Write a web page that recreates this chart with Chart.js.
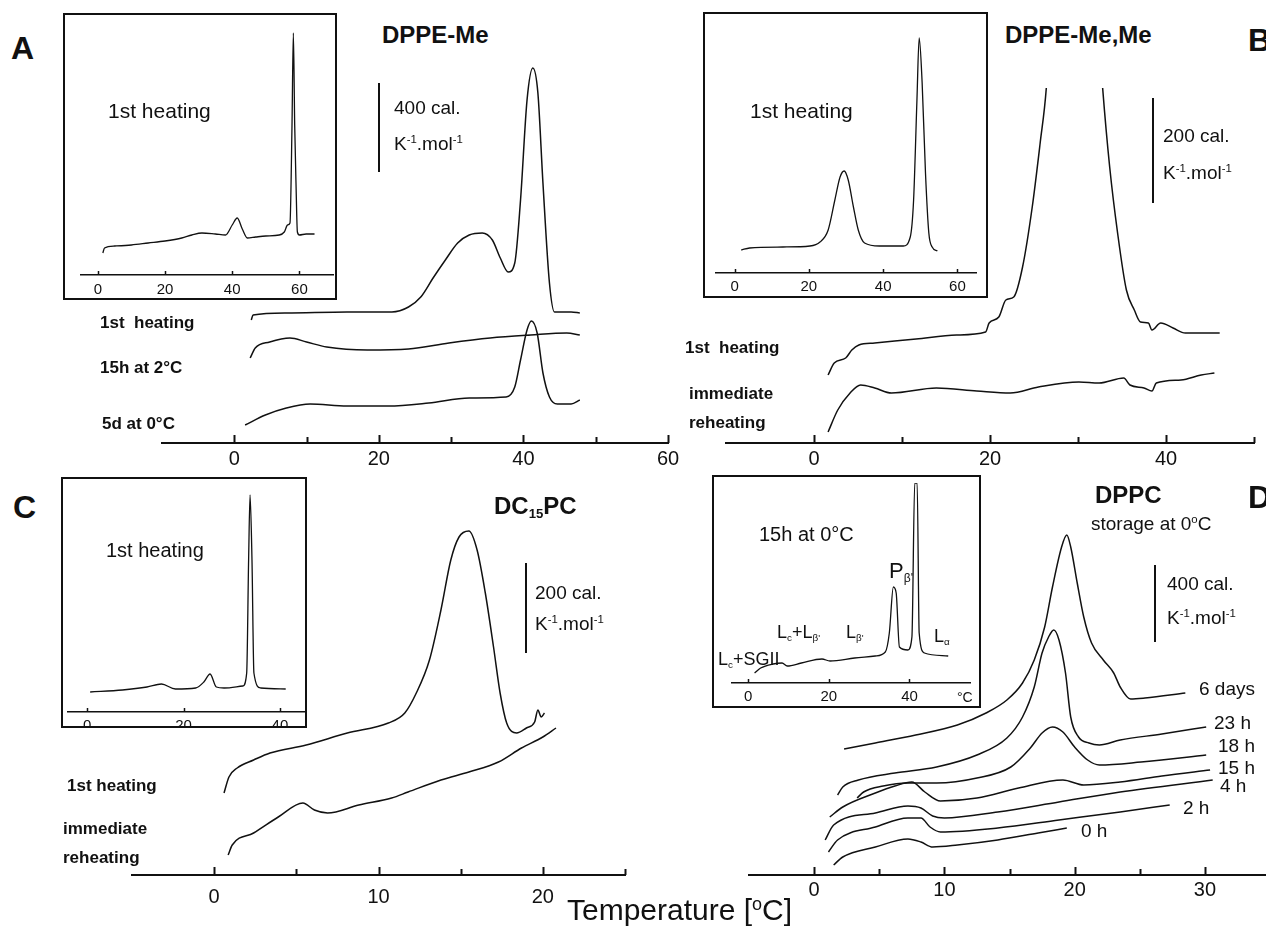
<!DOCTYPE html>
<html>
<head>
<meta charset="utf-8">
<script src="https://cdn.jsdelivr.net/npm/chart.js@4.4.0/dist/chart.umd.min.js"></script>
<style>
body{margin:0;background:#fff;}
#fig{position:relative;width:1266px;height:931px;overflow:hidden;background:#fff;font-family:"Liberation Sans",Arial,sans-serif;color:#111;}
.t{position:absolute;white-space:nowrap;transform:translateY(-50%);line-height:1;}
.t sub{font-size:0.55em;vertical-align:-0.35em;}
.t sup{font-size:0.6em;vertical-align:0.6em;}
.box{position:absolute;box-sizing:border-box;border:2px solid #111;overflow:hidden;background:#fff;}
.bar{position:absolute;width:1.5px;background:#111;}
canvas{position:absolute;}
</style>
</head>
<body>
<div id="fig"></div>
<script>
// ---- data: [temperature °C, excess heat capacity (arbitrary, px above baseline axis)] ----
// panel A, DPPE-Me
var aHeat1 = [[2.35,123],[2.6,128],[7.2,130],[15.6,131],[21.8,131],[24.1,136],[25.8,146],[27.5,165],[29.2,183],[30.9,200],[32.5,208],[34.3,210],[35.7,203],[36.8,185],[37.9,171],[38.8,180],[39.6,243],[40.5,343],[41.3,375],[42.0,350],[42.7,260],[43.6,160],[44.3,131],[46.6,131],[47.8,130]];
var a15h2C = [[2.2,85],[2.9,95],[4.9,101],[7.7,105],[10,101],[12.8,96],[18.4,93],[24.1,94],[29.7,100],[35.4,105],[41,108],[46,110],[47.8,108]];
var a5d0C = [[1.5,18],[4.3,28],[7.2,35],[10.5,39],[15.6,37],[21.3,37],[26.9,40],[32.5,45],[37.6,46],[38.8,56],[39.6,83],[40.5,113],[41.1,122],[41.9,110],[42.7,70],[43.6,46],[44.7,39],[46.6,39],[47.8,43]];
var aInset = [[1.5,22],[2,27],[5,29],[10,30],[15,32],[20,34],[25,37],[28,40],[31,42],[35,41],[38,40],[40,50],[41.5,57],[43,46],[44.5,37],[47,38],[50,39],[54,40],[55.5,43],[56.5,50],[57.2,52],[57.8,150],[58.2,242],[58.6,150],[59.0,90],[59.4,43],[60,40],[62,41],[64.5,41]];
// panel B, DPPE-Me,Me
var bHeat1 = [[1.6,68],[2.3,80],[3.6,85],[4.3,93],[5.1,98],[6.9,100],[11.6,104],[16.2,108],[19.5,111],[19.9,120],[21,126],[21.8,143],[22.7,146],[23.7,176],[24.8,236],[25.7,300],[26.4,355],[27.5,520],[29.5,760],[31.5,520],[32.8,355],[33.6,276],[34.5,210],[35.5,153],[36.4,133],[37.1,121],[38,120],[38.4,113],[39.4,120],[40.8,115],[42.2,110],[44,110],[46.1,110]];
var bReheat = [[1.6,11],[2.7,33],[4.1,50],[5.3,58],[6.9,55],[8.8,50],[13.9,55],[18.5,52],[22.3,50],[25.5,56],[30.1,61],[32.4,60],[35.2,65],[35.9,58],[37.5,55],[38.4,52],[38.9,60],[41.7,63],[44,68],[45.5,70]];
var bInset = [[1.8,23],[4.05,25],[13,26],[20.3,27],[23,31],[25.2,43],[27,73],[28.4,96],[29.5,102],[30.6,93],[32,66],[33.3,43],[35,30],[39,27],[45.4,27],[47.3,36],[48.2,73],[49.1,173],[49.7,235],[50.5,190],[51.4,100],[52.3,40],[53.2,26],[54.6,22]];
// panel C, DC15PC
var cHeat1 = [[0.6,82],[0.9,98],[1.4,107],[2.4,115],[3.4,122],[5.6,130],[8.1,142],[10.6,152],[11.6,162],[12.3,182],[13.1,215],[13.8,265],[14.4,315],[14.9,338],[15.5,344],[16.0,325],[16.5,282],[17.0,228],[17.4,182],[17.8,152],[18.4,142],[19.0,147],[19.5,153],[19.7,165],[19.9,158],[20.1,162]];
var cReheat = [[0.85,20],[1.1,30],[2.4,42],[3.9,58],[5.4,72],[6.1,65],[6.9,62],[8.8,70],[10.8,77],[11.8,83],[13.8,95],[15.5,103],[17.3,113],[18.7,127],[20,138],[20.8,147]];
var cInset = [[0.6,20],[7.3,22],[12.4,25],[15.4,28],[18.3,23],[22.5,24],[24.2,30],[25.5,38],[26.8,25],[28.4,24],[32.3,26],[33.1,39],[33.5,152],[33.8,217],[34.2,152],[34.6,39],[36,24],[41.2,23]];
// panel D, DPPC storage at 0 °C
var d6days = [[2.3,126],[4.7,132],[7.8,140],[11,150],[13.2,162],[14.8,175],[16,192],[16.9,215],[17.7,248],[18.3,288],[19,328],[19.4,340],[19.7,328],[20.2,292],[20.7,258],[21.3,232],[22.2,215],[23,202],[23.5,188],[24.3,176],[25.4,177],[28.5,182]];
var d23h = [[1.8,80],[2.2,88],[3.4,95],[6.2,102],[9.4,108],[12.5,120],[14.8,137],[16,158],[16.9,188],[17.5,222],[18,238],[18.4,245],[18.8,235],[19.3,202],[19.7,158],[20.3,138],[21.1,132],[21.9,130],[23.5,135],[26.7,141],[30.1,148]];
var d18h = [[3.3,77],[3.8,83],[5.3,89],[7.2,92],[9.4,92],[12.5,97],[15.1,108],[16.6,127],[17.5,142],[18.3,148],[19.1,143],[20,128],[21,115],[21.9,110],[25.1,113],[30.1,120]];
var d15h = [[1.2,58],[2.2,68],[4.7,82],[6.2,89],[7.5,93],[8.5,83],[9.7,74],[12.5,77],[15.7,87],[19.1,95],[20.7,90],[23.5,93],[26.7,99],[30.4,105]];
var d4h = [[0.85,35],[1.5,50],[4.7,62],[7.2,69],[8.2,67],[9.1,59],[10,57],[14.1,63],[18.8,73],[23.5,83],[30.6,95]];
var d2h = [[1.1,23],[1.8,35],[4.7,48],[7.2,57],[8.2,57],[8.9,48],[9.7,43],[14.1,47],[18.8,55],[23.5,63],[27.3,70]];
var d0h = [[1.5,10],[2.2,18],[4.7,28],[7.2,36],[8.2,33],[9.1,28],[11,30],[14.1,35],[17.2,42],[19.4,47]];
var dInset = [[1.6,10],[3.1,15],[6.2,19],[8.4,20],[9.7,17],[13.2,20],[18.3,24],[20.3,22],[26.4,25],[31.5,27],[34,31],[35,50],[36,96],[36.7,90],[37.5,36],[39.6,33],[40.6,46],[41.3,200],[41.9,200],[42.4,50],[43.7,30],[49.6,27]];

// tick labels
var aTicks = [0, 20, 40, 60], aMinor = [10, 30, 50];
var bTicks = [0, 20, 40], bMinor = [10, 30, 50];
var cTicks = [0, 10, 20], cMinor = [5, 15, 25];
var dTicks = [0, 10, 20, 30], dMinor = [5, 15, 25, 35];
var aInsetTicks = [0, 20, 40, 60];
var bInsetTicks = [0, 20, 40, 60];
var cInsetTicks = [0, 20, 40];
var dInsetTicks = [0, 20, 40];

Chart.defaults.font.family = '"Liberation Sans", Arial, sans-serif';
var fig = document.getElementById('fig');

// tick marks pointing up from the axis line
var upTicks = {
  id: 'upTicks',
  afterDraw: function (chart, args, opts) {
    var xs = chart.scales.x, ctx = chart.ctx, y = xs.top;
    ctx.save();
    ctx.strokeStyle = '#111';
    ctx.lineWidth = opts.width;
    [[opts.major, opts.len], [opts.minor, opts.minorLen]].forEach(function (set) {
      (set[0] || []).forEach(function (v) {
        var px = Math.round(xs.getPixelForValue(v)) + 0.5;
        ctx.beginPath();
        ctx.moveTo(px, y);
        ctx.lineTo(px, y - set[1]);
        ctx.stroke();
      });
    });
    ctx.restore();
  }
};

function plot(parent, ox, oy, g, series, ticks, minor) {
  var padL = 30, padR = 30, axisH = 40;
  var w = g.x1 - g.x0 + padL + padR, h = g.axisY - g.top + axisH;
  var cv = document.createElement('canvas');
  cv.width = w; cv.height = h;
  cv.style.width = w + 'px'; cv.style.height = h + 'px';
  cv.style.left = (g.x0 - padL - ox) + 'px';
  cv.style.top = (g.top - oy) + 'px';
  parent.appendChild(cv);
  new Chart(cv.getContext('2d'), {
    type: 'line',
    data: {
      datasets: series.map(function (s) {
        return {
          data: s.map(function (p) { return {x: p[0], y: p[1]}; }),
          borderColor: '#111', borderWidth: g.lw, pointRadius: 0,
          cubicInterpolationMode: 'monotone', fill: false, clip: g.clip
        };
      })
    },
    options: {
      responsive: false, animation: false, devicePixelRatio: 1,
      layout: {padding: {left: padL, right: padR, top: 0, bottom: 0}},
      plugins: {
        legend: {display: false}, tooltip: {enabled: false},
        upTicks: {major: ticks, minor: minor, len: g.tl, minorLen: g.tl - 2, width: g.aw}
      },
      scales: {
        x: {
          type: 'linear', min: g.min, max: g.max,
          afterBuildTicks: function (s) { s.ticks = ticks.map(function (v) { return {value: v}; }); },
          afterFit: function (s) { s.height = axisH; s.paddingLeft = 0; s.paddingRight = 0; },
          grid: {display: false, drawTicks: false},
          border: {display: true, color: '#111', width: g.aw},
          ticks: {color: '#111', font: {size: g.fs}, padding: g.pad, maxRotation: 0, autoSkip: false}
        },
        y: {display: false, min: 0, max: g.axisY - g.top}
      }
    },
    plugins: [upTicks]
  });
}

function box(x, y, w, h) {
  var d = document.createElement('div');
  d.className = 'box';
  d.style.left = x + 'px'; d.style.top = y + 'px';
  d.style.width = w + 'px'; d.style.height = h + 'px';
  fig.appendChild(d);
  return d;
}
function txt(html, x, y, css) {
  var d = document.createElement('div');
  d.className = 't';
  d.innerHTML = html;
  d.style.left = x + 'px'; d.style.top = y + 'px';
  d.style.cssText += css;
  fig.appendChild(d);
}
function bar(x, y0, y1) {
  var d = document.createElement('div');
  d.className = 'bar';
  d.style.left = x + 'px'; d.style.top = y0 + 'px'; d.style.height = (y1 - y0) + 'px';
  fig.appendChild(d);
}

// main panels
plot(fig, 0, 0, {x0: 162, x1: 668, min: -10, max: 60, axisY: 443, top: 60, fs: 20, pad: 4, tl: 8, aw: 2, lw: 1.5}, [aHeat1, a15h2C, a5d0C], aTicks, aMinor);
plot(fig, 0, 0, {x0: 726, x1: 1254, min: -10, max: 50, axisY: 443, top: 88, fs: 20, pad: 4, tl: 8, aw: 2, lw: 1.5}, [bHeat1, bReheat], bTicks, bMinor);
plot(fig, 0, 0, {x0: 132, x1: 625, min: -5, max: 25, axisY: 875, top: 500, fs: 20, pad: 10, tl: 8, aw: 2, lw: 1.5}, [cHeat1, cReheat], cTicks, cMinor);
plot(fig, 0, 0, {x0: 749, x1: 1270, min: -5, max: 35, axisY: 875, top: 500, fs: 20, pad: 3, tl: 8, aw: 2, lw: 1.5}, [d6days, d23h, d18h, d15h, d4h, d2h, d0h], dTicks, dMinor);

// insets
var ia = box(63, 13, 274, 287);
plot(ia, 65, 15, {x0: 81, x1: 333, min: -5, max: 70, axisY: 275, top: 25, fs: 15, pad: 6, tl: 4, aw: 1.5, lw: 1.3, clip: false}, [aInset], aInsetTicks, []);
var ib = box(703, 12, 285, 286);
plot(ib, 705, 14, {x0: 716, x1: 976, min: -5, max: 65, axisY: 273, top: 25, fs: 15, pad: 5, tl: 4, aw: 1.5, lw: 1.3, clip: false}, [bInset], bInsetTicks, []);
var ic = box(61, 477, 246, 251);
plot(ic, 63, 479, {x0: 68, x1: 304, min: -4, max: 45, axisY: 712, top: 485, fs: 15, pad: 5, tl: 4, aw: 1.5, lw: 1.3, clip: false}, [cInset], cInsetTicks, []);
var id = box(712, 475, 269, 233);
plot(id, 714, 477, {x0: 732, x1: 970, min: -4, max: 55, axisY: 683, top: 483, fs: 15, pad: 5, tl: 4, aw: 1.5, lw: 1.3, clip: false}, [dInset], dInsetTicks, []);

// panel A texts
txt('A', 11, 48, 'font-size:32px;font-weight:bold;');
txt('DPPE-Me', 382, 35, 'font-size:24px;font-weight:bold;');
bar(378, 83, 172);
txt('400 cal.', 394, 107, 'font-size:19px;');
txt('K<sup>-1</sup>.mol<sup>-1</sup>', 394, 143, 'font-size:19px;');
txt('1st&nbsp;&nbsp;heating', 100, 322, 'font-size:17px;font-weight:bold;');
txt('15h at 2°C', 100, 367, 'font-size:17px;font-weight:bold;');
txt('5d at 0°C', 102, 423, 'font-size:17px;font-weight:bold;');
txt('1st heating', 108, 110, 'font-size:21px;');

// panel B texts
txt('B', 1248, 40, 'font-size:32px;font-weight:bold;');
txt('DPPE-Me,Me', 1005, 35, 'font-size:24px;font-weight:bold;');
bar(1152, 98, 203);
txt('200 cal.', 1163, 135, 'font-size:19px;');
txt('K<sup>-1</sup>.mol<sup>-1</sup>', 1163, 172, 'font-size:19px;');
txt('1st&nbsp;&nbsp;heating', 685, 347, 'font-size:17px;font-weight:bold;');
txt('immediate', 689, 393, 'font-size:17px;font-weight:bold;');
txt('reheating', 689, 422, 'font-size:17px;font-weight:bold;');
txt('1st heating', 750, 110, 'font-size:21px;');

// panel C texts
txt('C', 13, 507, 'font-size:32px;font-weight:bold;');
txt('DC<sub>15</sub>PC', 494, 507, 'font-size:24px;font-weight:bold;');
bar(525, 563, 653);
txt('200 cal.', 535, 592, 'font-size:19px;');
txt('K<sup>-1</sup>.mol<sup>-1</sup>', 535, 623, 'font-size:19px;');
txt('1st heating', 67, 785, 'font-size:17px;font-weight:bold;');
txt('immediate', 63, 828, 'font-size:17px;font-weight:bold;');
txt('reheating', 63, 857, 'font-size:17px;font-weight:bold;');
txt('1st heating', 106, 550, 'font-size:20px;');

// panel D texts
txt('D', 1248, 497, 'font-size:32px;font-weight:bold;');
txt('DPPC', 1095, 495, 'font-size:24px;font-weight:bold;');
txt('storage at 0<sup>o</sup>C', 1091, 523, 'font-size:19px;');
bar(1154, 565, 642);
txt('400 cal.', 1167, 583, 'font-size:19px;');
txt('K<sup>-1</sup>.mol<sup>-1</sup>', 1167, 617, 'font-size:19px;');
txt('6 days', 1199, 688, 'font-size:19px;');
txt('23 h', 1214, 722, 'font-size:19px;');
txt('18 h', 1218, 745, 'font-size:19px;');
txt('15 h', 1218, 767, 'font-size:19px;');
txt('4 h', 1220, 785, 'font-size:19px;');
txt('2 h', 1183, 807, 'font-size:19px;');
txt('0 h', 1081, 830, 'font-size:19px;');
txt('15h at 0°C', 759, 534, 'font-size:20px;');
txt('P<sub>β\'</sub>', 889, 572, 'font-size:22px;');
txt('L<sub>c</sub>+SGII', 718, 660, 'font-size:18px;');
txt('L<sub>c</sub>+L<sub>β\'</sub>', 777, 633, 'font-size:18px;');
txt('L<sub>β\'</sub>', 846, 633, 'font-size:18px;');
txt('L<sub>α</sub>', 934, 637, 'font-size:18px;');
txt('°C', 957, 697, 'font-size:14px;');

txt('Temperature [<sup>o</sup>C]', 567, 910, 'font-size:30px;');
</script>
</body>
</html>
